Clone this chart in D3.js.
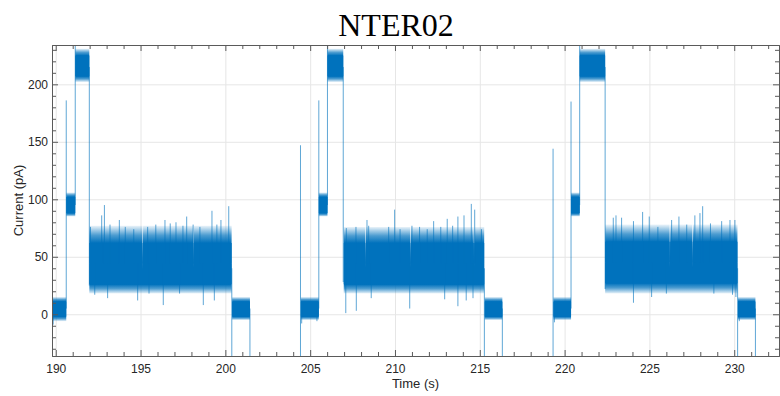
<!DOCTYPE html>
<html>
<head>
<meta charset="utf-8">
<script src="https://cdn.jsdelivr.net/npm/d3@7"></script>
<style>
body { margin: 0; background: #fff; }
text { font-family: "Liberation Sans", Arial, sans-serif; fill: #262626; }
</style>
</head>
<body>
<div id="chart"></div>
<script>
// set the dimensions of the figure
const width = 780
const height = 396

const title = "NTER02"
const xLabel = "Time (s)"
const yLabel = "Current (pA)"
const xTicks = [190, 195, 200, 205, 210, 215, 220, 225, 230]
const yTicks = [0, 50, 100, 150, 200]
const xRange = [189.78, 232.64]
const yRange = [-36.3, 234.2]

// steady levels: start (s), end (s), dense low, dense high, noise low, noise high (pA)
const blocks = [
    [189.78, 190.62, -2, 11, -6, 15],
    [190.62, 191.15, 88, 102, 85, 106],
    [191.15, 191.98, 207, 225, 202, 231],
    [191.98, 200.37, 26, 62, 18, 77],
    [200.40, 201.45, -2, 11, -5, 15],
    [204.45, 205.51, -2, 11, -5, 15],
    [205.51, 206.02, 88, 102, 85, 106],
    [206.02, 206.95, 207, 225, 202, 231],
    [206.98, 215.26, 26, 62, 18, 76],
    [215.29, 216.33, -2, 11, -5, 15],
    [219.34, 220.38, -2, 11, -5, 15],
    [220.38, 220.89, 88, 102, 85, 106],
    [220.89, 222.39, 207, 225, 202, 231],
    [222.39, 230.19, 27, 63, 18, 78],
    [230.22, 231.25, -2, 11, -5, 15],
]

// jumps between levels: time (s), from (pA), to (pA)
const jumps = [
    [190.62, 5, 186],
    [191.15, 95, 240],
    [191.98, 215, 25],
    [200.38, 40, -40],
    [201.45, 5, -40],
    [204.43, -40, 147],
    [205.51, 5, 186],
    [206.02, 95, 240],
    [206.95, 215, 28],
    [215.27, 40, -40],
    [216.33, 5, -40],
    [219.32, -40, 144],
    [220.38, 5, 185],
    [220.89, 95, 240],
    [222.39, 215, 22],
    [230.20, 40, -40],
    [231.25, 5, -40],
]

// single spikes out of the noise: time (s), peak (pA)
const spikes = [
    [189.85, -9], [204.50, -8], [205.40, -6], [219.40, -7], [230.30, -6],
    [192.05, 76], [192.71, 86], [192.87, 95], [193.20, 78], [193.75, 82], [194.10, 76],
    [194.60, 74], [195.42, 76], [195.90, 78], [196.44, 82], [196.75, 79], [197.09, 80],
    [197.50, 77], [197.72, 85], [198.10, 78], [198.50, 76], [199.21, 90], [199.50, 78],
    [199.74, 82], [200.20, 94],
    [192.30, 17], [193.06, 14], [194.83, 12], [195.50, 18], [196.34, 8], [197.30, 18],
    [198.70, 8], [199.35, 12],
    [207.13, 75], [207.70, 76], [208.35, 82], [208.45, 77], [209.63, 76], [209.98, 91],
    [210.30, 74], [211.00, 77], [211.45, 76], [211.90, 74], [212.28, 81], [212.70, 76],
    [213.08, 83], [213.40, 77], [213.71, 85], [214.07, 86], [214.50, 96], [214.70, 91],
    [215.10, 74],
    [207.10, 1], [207.72, 3], [208.60, 14], [210.87, 5], [212.93, 13], [213.71, 7],
    [214.20, 12], [214.60, 14],
    [222.87, 84], [223.03, 86], [223.36, 84], [224.06, 81], [224.60, 89], [224.99, 85],
    [225.50, 76], [226.31, 82], [226.74, 85], [227.20, 78], [227.68, 86], [227.98, 88],
    [228.14, 94], [228.60, 79], [229.26, 81], [229.75, 82], [230.04, 82],
    [224.06, 10], [225.13, 15], [226.00, 18], [228.80, 18], [229.90, 17], [230.10, 15],
]

// short drops of the upper edge of the noise: time (s), value (pA)
const dips = [
    [195.13, 38], [198.11, 40],
    [208.25, 40], [210.92, 40], [214.66, 41],
    [226.21, 40], [227.55, 40],
]

const blue = "#0072BD"

// append the svg object to the body of the page
const svg = d3.select("#chart")
    .append("svg")
    .attr("width", width)
    .attr("height", height)

const x = d3.scaleLinear().domain(xRange).range([52, 779])
const y = d3.scaleLinear().domain(yRange).range([356, 45])
const [x0, x1] = x.range()
const [y0, y1] = y.range()

// grid
svg.append("g")
    .attr("transform", `translate(0,${y0})`)
    .call(d3.axisBottom(x).tickValues(xTicks).tickSize(-(y0 - y1)).tickFormat(""))
    .call(g => g.select(".domain").remove())
    .call(g => g.selectAll("line").attr("stroke", "#e6e6e6"))
svg.append("g")
    .attr("transform", `translate(${x0},0)`)
    .call(d3.axisLeft(y).tickValues(yTicks).tickSize(-(x1 - x0)).tickFormat(""))
    .call(g => g.select(".domain").remove())
    .call(g => g.selectAll("line").attr("stroke", "#e6e6e6"))

// fading gradients for the noise edges, one pair per block
const defs = svg.append("defs")
blocks.forEach((b, i) => {
    [["up", b[3], b[5]], ["dn", b[2], b[4]]].forEach(([name, from, to]) => {
        const grad = defs.append("linearGradient")
            .attr("id", name + i)
            .attr("gradientUnits", "userSpaceOnUse")
            .attr("x1", 0).attr("x2", 0)
            .attr("y1", y(from)).attr("y2", y(to))
        grad.append("stop").attr("offset", 0).attr("stop-color", blue).attr("stop-opacity", 1)
        grad.append("stop").attr("offset", 0.45).attr("stop-color", blue).attr("stop-opacity", 0.7)
        grad.append("stop").attr("offset", 1).attr("stop-color", blue).attr("stop-opacity", 0.08)
    })
})

// trace, clipped to the axes box
defs.append("clipPath").attr("id", "clip")
    .append("rect").attr("x", x0).attr("y", y1).attr("width", x1 - x0).attr("height", y0 - y1)
const trace = svg.append("g").attr("clip-path", "url(#clip)")

function envelope(b, lo, hi) {
    const pts = [[b[0], lo, hi]]
    dips.filter(d => d[0] > b[0] && d[0] < b[1]).forEach(d => {
        const v = Math.max(b[2], d[1])
        pts.push([d[0] - 0.02, lo, hi], [d[0], Math.min(lo, v), Math.min(hi, v)], [d[0] + 0.02, lo, hi])
    })
    pts.push([b[1], lo, hi])
    return pts
}
const area = d3.area().x(d => x(d[0])).y0(d => y(d[1])).y1(d => y(d[2]))
const mid = b => (b[2] + b[3]) / 2

// the fading edges reach into the dense band, which is laid on top, so no seam shows
trace.selectAll(".upper").data(blocks).join("path")
    .attr("class", "upper")
    .attr("d", b => area(envelope(b, mid(b), b[5])))
    .attr("fill", (b, i) => `url(#up${i})`)
trace.selectAll(".lower").data(blocks).join("path")
    .attr("class", "lower")
    .attr("d", b => area(envelope(b, b[4], mid(b))))
    .attr("fill", (b, i) => `url(#dn${i})`)
trace.selectAll(".core").data(blocks).join("path")
    .attr("class", "core")
    .attr("d", b => area(envelope(b, b[2], b[3])))
    .attr("fill", blue)

function blockMid(t) {
    const b = blocks.find(b => t >= b[0] && t <= b[1])
    return b ? mid(b) : 0
}
trace.selectAll(".spike").data(spikes).join("line")
    .attr("class", "spike")
    .attr("x1", d => x(d[0])).attr("x2", d => x(d[0]))
    .attr("y1", d => y(blockMid(d[0]))).attr("y2", d => y(d[1]))
    .attr("stroke", blue).attr("stroke-width", 0.9).attr("stroke-opacity", 0.7)
trace.selectAll(".jump").data(jumps).join("line")
    .attr("class", "jump")
    .attr("x1", d => x(d[0])).attr("x2", d => x(d[0]))
    .attr("y1", d => y(d[1])).attr("y2", d => y(d[2]))
    .attr("stroke", blue).attr("stroke-width", 0.9).attr("stroke-opacity", 0.7)

// axes box with inward ticks on all sides
const xMinor = d3.range(190, 233, 1).filter(t => t % 5 !== 0)
const yMinor = d3.range(-30, 231, 10).filter(v => v % 50 !== 0)
function styleAxis(g) {
    g.select(".domain").attr("stroke", "#5a5a5a")
    g.selectAll(".tick line").attr("stroke", "#5a5a5a")
}
const sides = [
    [d3.axisBottom, `translate(0,${y0})`, x, xTicks, xMinor, true, 8],
    [d3.axisTop, `translate(0,${y1})`, x, xTicks, xMinor, false, 0],
    [d3.axisLeft, `translate(${x0},0)`, y, yTicks, yMinor, true, 4],
    [d3.axisRight, `translate(${x1},0)`, y, yTicks, yMinor, false, 0],
]
sides.forEach(([axis, tr, scale, major, minor, labels, pad]) => {
    svg.append("g").attr("transform", tr)
        .call(axis(scale).tickValues(minor).tickSizeInner(-4).tickSizeOuter(0).tickFormat(""))
        .call(styleAxis)
    const g = svg.append("g").attr("transform", tr)
        .call(axis(scale).tickValues(major).tickSizeInner(-6).tickSizeOuter(0).tickPadding(pad)
            .tickFormat(labels ? d3.format("d") : ""))
        .call(styleAxis)
    g.selectAll("text").attr("font-size", 12).attr("font-family", null).attr("fill", "#262626")
})

// labels
svg.append("text")
    .attr("x", (x0 + x1) / 2).attr("y", 388)
    .attr("text-anchor", "middle").attr("font-size", 13)
    .text(xLabel)
svg.append("text")
    .attr("transform", `translate(23,${(y0 + y1) / 2}) rotate(-90)`)
    .attr("text-anchor", "middle").attr("font-size", 13)
    .text(yLabel)
svg.append("text")
    .attr("x", 396).attr("y", 36)
    .attr("text-anchor", "middle").attr("font-size", 32)
    .style("font-family", "'Liberation Serif', 'Times New Roman', serif")
    .style("fill", "#000")
    .text(title)
</script>
</body>
</html>
